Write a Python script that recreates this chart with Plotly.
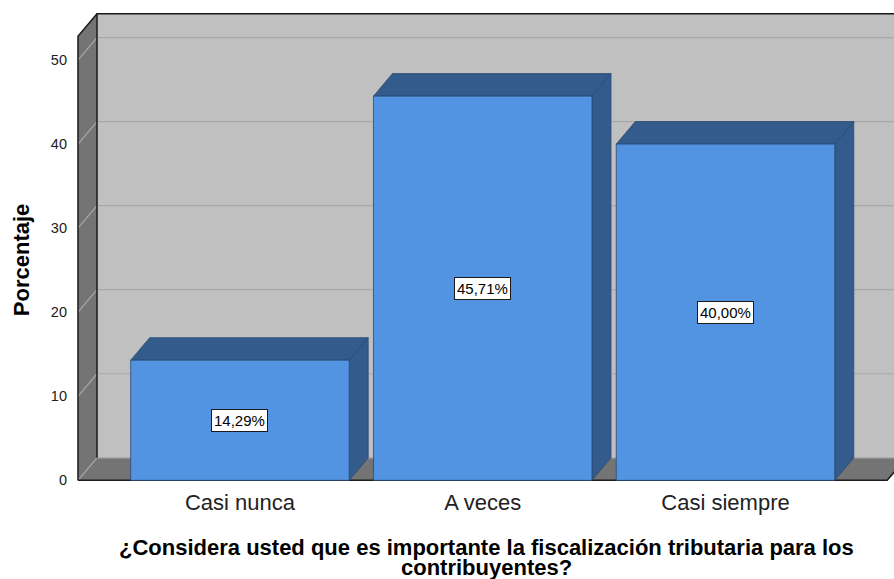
import plotly.graph_objects as go

# ---------------- data ----------------
categories = ["Casi nunca", "A veces", "Casi siempre"]
percentages = [14.29, 45.71, 40.00]
bar_labels = ["14,29%", "45,71%", "40,00%"]
y_ticks = [0, 10, 20, 30, 40, 50]
y_title = "Porcentaje"
x_title_lines = ["¿Considera usted que es importante la fiscalización tributaria para los",
                 "contribuyentes?"]

# ---------------- style ----------------
FONT = "Liberation Sans, Arial, sans-serif"
FRONT = "#5394E2"
SHADE = "#335B8C"
EDGE = "#2A4A72"
WALL = "#C0C0C0"
DARK_WALL = "#747474"
GRID = "#A8A8A8"
BLACK = "#1A1A1A"

X_RANGE = [-0.6752, 2.694]
Y_RANGE = [-0.2, 55.6]
X0 = -0.667          # front edge of the left wall
X_END = 2.666        # front right end of the floor
DX, DY = 0.0783, 2.68  # depth offset of the pseudo 3D effect
WALL_TOP_BACK = 55.5
WALL_TOP_FRONT = WALL_TOP_BACK - DY
BAR_W = 0.90

fig = go.Figure()


def poly(xs, ys, fill, line_color=None, line_width=0):
    fig.add_trace(go.Scatter(
        x=list(xs) + [xs[0]], y=list(ys) + [ys[0]], mode="lines", fill="toself",
        fillcolor=fill, line=dict(color=line_color or fill, width=line_width),
        hoverinfo="skip", showlegend=False))


def seg(xs, ys, color, width):
    fig.add_trace(go.Scatter(x=xs, y=ys, mode="lines",
                             line=dict(color=color, width=width),
                             hoverinfo="skip", showlegend=False))


# back wall
poly([X0 + DX, X_END + DX + 0.2, X_END + DX + 0.2, X0 + DX],
     [DY, DY, WALL_TOP_BACK, WALL_TOP_BACK], WALL)
# left wall
poly([X0, X0 + DX, X0 + DX, X0],
     [0, DY, WALL_TOP_BACK, WALL_TOP_FRONT], DARK_WALL)
# floor
poly([X0, X_END, X_END + DX, X0 + DX], [0, 0, DY, DY], DARK_WALL)

# grid lines (back wall + left wall)
for v in y_ticks:
    seg([X0 + DX, X_END + DX + 0.2], [v + DY, v + DY], GRID, 1.2)
    seg([X0, X0 + DX], [v, v + DY], GRID, 1.2)

# frame outlines
seg([X0, X0, X0 + DX, X_END + DX + 0.2], [0, WALL_TOP_FRONT, WALL_TOP_BACK, WALL_TOP_BACK], BLACK, 1.5)
seg([X0 + DX, X0 + DX], [DY, WALL_TOP_BACK], BLACK, 1.5)
seg([X0, X_END, X_END + DX], [0, 0, DY], BLACK, 1.5)

# bars (side, top, front)
for i, v in enumerate(percentages):
    xl, xr = i - BAR_W / 2, i + BAR_W / 2
    poly([xr, xr + DX, xr + DX, xr], [0, DY, v + DY, v], SHADE, EDGE, 0.8)
    poly([xl, xr, xr + DX, xl + DX], [v, v, v + DY, v + DY], SHADE, EDGE, 0.8)
    poly([xl, xr, xr, xl], [0, 0, v, v], FRONT, EDGE, 0.8)
    fig.add_annotation(x=i, y=v / 2, xref="x", yref="y", text=bar_labels[i],
                       showarrow=False, bgcolor="white", bordercolor=BLACK,
                       borderwidth=1, borderpad=2,
                       font=dict(family=FONT, size=15, color="black"))

# axis titles
fig.add_annotation(x=0, y=0.473, xref="paper", yref="paper", xshift=-55,
                   xanchor="center", yanchor="middle",
                   text="<b>%s</b>" % y_title, textangle=-90, showarrow=False,
                   font=dict(family=FONT, size=22, color="black"))
for k, line in enumerate(x_title_lines):
    fig.add_annotation(x=0.5024, y=0, xref="paper", yref="paper", yshift=-65 - 20.5 * k,
                       text="<b>%s</b>" % line, showarrow=False,
                       xanchor="center", yanchor="middle",
                       font=dict(family=FONT, size=22, color="black"))

fig.update_layout(
    width=894, height=579,
    margin=dict(l=76, r=0, t=13, b=97),
    paper_bgcolor="white", plot_bgcolor="white",
    showlegend=False,
    hovermode=False,
    xaxis=dict(range=X_RANGE, tickvals=list(range(len(categories))), ticktext=categories,
               showgrid=False, zeroline=False, showline=False, ticks="",
               ticklabelstandoff=5,
               tickfont=dict(family=FONT, size=22, color="#222222")),
    yaxis=dict(range=Y_RANGE, tickvals=y_ticks, ticktext=[str(t) for t in y_ticks],
               showgrid=False, zeroline=False, showline=False, ticks="",
               ticklabelstandoff=8,
               tickfont=dict(family=FONT, size=14.5, color="#222222")),
)

fig.write_html("out.html", config={"displayModeBar": False},
               post_script="document.body.style.margin='0px';")
